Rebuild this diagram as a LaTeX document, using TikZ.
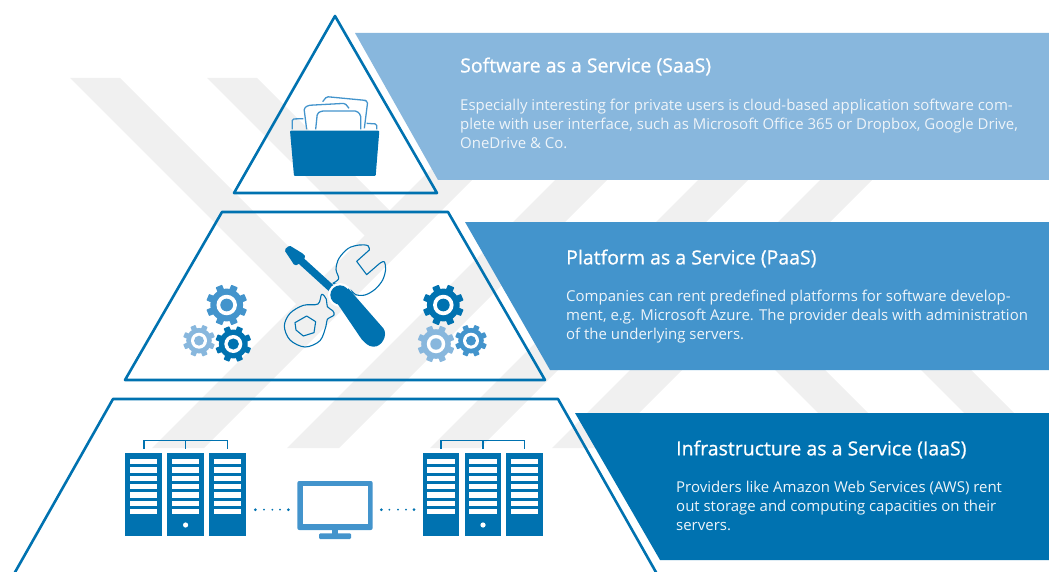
\documentclass[tikz,border=0pt]{standalone}
\usepackage{fontspec}
\setmainfont{Open Sans}
\newfontfamily\titlefont{Open Sans}[FakeBold=0.8]
\definecolor{blueD}{HTML}{0072B0}
\definecolor{blueM}{HTML}{4394CC}
\definecolor{blueL}{HTML}{88B7DD}
\definecolor{bandgray}{HTML}{F0F0F0}
\definecolor{bodytext}{HTML}{EEF4F9}
\tikzset{
  band/.style={fill=bandgray,draw=none},
  outline/.style={draw=blueD,line width=2.6pt,line join=round},
  title/.style={anchor=west,inner sep=0pt,text=white,font=\fontsize{19.5}{22}\selectfont},
  bodyblock/.style={anchor=north west,inner sep=0pt,text=bodytext,align=left,font=\fontsize{14.97}{19}\selectfont},
  rack/.style={fill=blueD,draw=none},
  thinline/.style={draw=blueD,line width=1.2pt},
  wrench/.style={draw=blueD,line width=1.1pt,line join=round},
  paper/.style={draw=blueM,line width=1.3pt,rounded corners=1.5pt}
}
\newcommand{\gearicon}[4]{% cx cy R colour
  \fill[#4] (#1,#2) circle ({0.8*#3});
  \foreach \a in {22.5,67.5,...,337.5}{
    \fill[#4,rounded corners=0.6pt,rotate around={\a:(#1,#2)}]
      ({#1-0.17*#3},{#2+0.6*#3}) rectangle ({#1+0.17*#3},{#2+#3});
  }
  \fill[white] (#1,#2) circle ({0.5*#3});
  \fill[#4] (#1,#2) circle ({0.31*#3});
}
\newcommand{\serverrack}[2]{% x, dot flag
  \fill[rack] (#1,453.3) rectangle ({#1+36.7},536);
  \foreach \k in {0,...,6}{
    \fill[white] ({#1+4.7},{459+8.33*\k}) rectangle ({#1+32},{464.3+8.33*\k});
  }
  \ifnum#2=1 \fill[white] ({#1+18.3},525) circle (2.6); \fi
}
\begin{document}
\begin{tikzpicture}[x=1pt,y=-1pt]
\useasboundingbox (0,0) rectangle (1049,572);
% background stripes
\fill[band] (70,78) -- (120,78) -- (334,292) -- (309,317) -- cycle;
\fill[band] (207,78) -- (257,78) -- (402.5,223.5) -- (377.5,248.5) -- cycle;
\fill[band] (152,448) -- (204,448) -- (574,78) -- (522,78) -- cycle;
\fill[band] (287,448) -- (339,448) -- (709,78) -- (657,78) -- cycle;
\fill[band] (430,448) -- (480,448) -- (850,78) -- (800,78) -- cycle;
\fill[band] (552,448) -- (604,448) -- (974,78) -- (922,78) -- cycle;
\fill[band] (705,300) -- (755,300) -- (903,448) -- (853,448) -- cycle;
\fill[band] (851,300) -- (901,300) -- (1049,448) -- (999,448) -- cycle;
% text bands
\fill[blueL] (355,33) -- (1049,33) -- (1049,180) -- (438,180) -- cycle;
\fill[blueM] (465,222) -- (1049,222) -- (1049,370) -- (550,370) -- cycle;
\fill[blueD] (575,413) -- (1049,413) -- (1049,560) -- (660,560) -- cycle;
% pyramid
\draw[outline] (335,16) -- (437,193) -- (234,193) -- cycle;
\draw[outline] (222,212) -- (448,212) -- (545,380) -- (125,380) -- cycle;
\draw[outline] (14,574) -- (113,399) -- (558,399) -- (657,574);
% texts
\node[title] (t1) at (460,66.5) {\titlefont Software as a Service (SaaS)};
\node[bodyblock] (b1) at (460,98.5) {Especially interesting for private users is cloud-based application software com-\\plete with user interface, such as Microsoft Office 365 or Dropbox, Google Drive,\\OneDrive \& Co.};
\node[title] (t2) at (566,258.5) {\titlefont Platform as a Service (PaaS)};
\node[bodyblock] (b2) at (566,289.5) {Companies can rent predefined platforms for software develop-\\ment, e.g. Microsoft Azure. The provider deals with administration\\of the underlying servers.};
\node[title] (t3) at (676,449.5) {\titlefont Infrastructure as a Service (IaaS)};
\node[bodyblock] (b3) at (676,480.5) {Providers like Amazon Web Services (AWS) rent\\out storage and computing capacities on their\\servers.};
% folder
\begin{scope}[shift={(230,0)},scale=1/3]
\draw[paper] (187,388) -- (187,357) -- (220,356);
\draw[paper] (440,388) -- (440,372) -- (410,370);
\draw[paper] (403,385) -- (413,305) -- (405,301) -- (290,290) -- (278,305);
\draw[paper] (230,388) -- (222,325) -- (235,316) -- (345,310) -- (357,325);
\draw[paper] (257,388) -- (262,340) -- (275,333) -- (380,333) -- (392,345) -- (392,388);
\fill[blueD,rounded corners=1pt] (180,392) -- (448,392) -- (437,528) -- (192,528) -- cycle;
\end{scope}
% tools
\begin{scope}[shift={(240,200)},scale=1/3]
\draw[wrench] plot[smooth,tension=.55] coordinates {(278,250)(296,236)(288,208)(297,175)(325,145)(358,135)(384,137)(388,150)} -- (350,184) -- (380,224) -- (418,191) plot[smooth,tension=.55] coordinates {(418,191)(432,185)(437,207)(428,240)(405,268)(375,285)(347,284)(332,270)(316,262)(300,256)(278,250)};
\draw[wrench] plot[smooth cycle,tension=.55] coordinates {(245,283)(234,312)(190,316)(150,340)(133,378)(150,420)(195,441)(240,422)(258,378)(262,358)(282,345)(278,332)(262,320)(259,298)};
\draw[wrench] (165,368) -- (200,348) -- (227,365) -- (222,398) -- (190,408) -- (168,390) -- cycle;
\fill[blueD,rounded corners=1.5pt] (133,150) -- (148,136) -- (192,163) -- (197,172) -- (174,194) -- (164,197) -- cycle;
\draw[blueD,line width=7.5pt] (175,175) -- (285,275);
\fill[white] (300,285) circle (36);
\fill[blueD] (300,285) circle (29);
\fill[blueD] (285,300) -- (325,265) -- (430,385) .. controls (445,405) and (425,442) .. (400,440) .. controls (385,440) and (375,428) .. (365,418) -- cycle;
\end{scope}
% gears
\gearicon{226.7}{305}{20.5}{blueM}
\gearicon{199}{340.7}{16}{blueL}
\gearicon{233.3}{344}{18}{blueD}
\gearicon{443.3}{305}{20.5}{blueD}
\gearicon{436}{344}{18.5}{blueL}
\gearicon{471}{340.7}{16}{blueM}
% servers
\serverrack{125.3}{0}
\serverrack{167.3}{1}
\serverrack{209}{0}
\serverrack{422.7}{0}
\serverrack{464.7}{1}
\serverrack{506.3}{0}
\draw[thinline] (144,448.5) -- (144,440.5) -- (227.5,440.5) -- (227.5,448.5);
\draw[thinline] (185.7,440.5) -- (185.7,448.5);
\draw[thinline] (441,448.5) -- (441,440.5) -- (524.7,440.5) -- (524.7,448.5);
\draw[thinline] (483,440.5) -- (483,448.5);
% monitor
\fill[blueM,rounded corners=2pt] (297.3,481) rectangle (372.7,530);
\fill[white] (302.7,486.3) rectangle (367.7,524);
\fill[blueM] (331.7,529) rectangle (338.3,534);
\fill[blueM,rounded corners=1.2pt] (319,533.3) rectangle (351,539);
% dots
\foreach \x/\r in {255.3/1.5,264/1,272.3/1,280/1,288.3/1.5,381.3/1.5,389.3/1,398/1,406/1,414/1.5}{
  \fill[blueD] (\x,509.7) circle (\r);
}
\end{tikzpicture}
\end{document}
